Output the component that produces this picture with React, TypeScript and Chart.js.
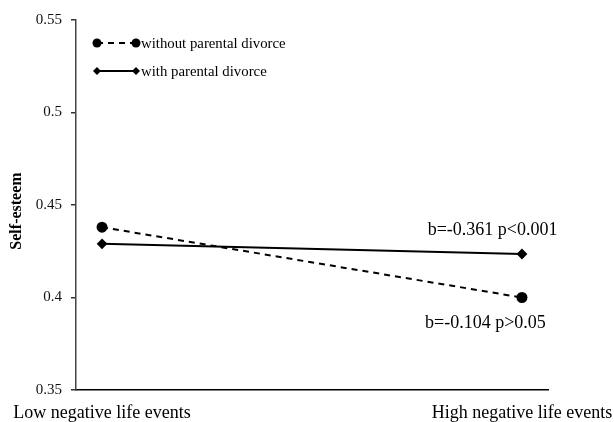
import React, { useEffect, useRef } from "react";
import { Chart, registerables } from "chart.js";

Chart.register(...registerables);

const categories = ["Low negative life events", "High negative life events"];
const categoryPositions = [0, 1];
const withoutDivorce = [0.438, 0.4];
const withDivorce = [0.429, 0.4235];
const seriesNames = ["without parental divorce", "with parental divorce"];
const yTicks = [0.35, 0.4, 0.45, 0.5, 0.55];
const yTickLabels = ["0.35", "0.4", "0.45", "0.5", "0.55"];
const yTitle = "Self-esteem";
const annotations = [
  { text: "b=-0.361 p<0.001", x: 0.93, y: 0.4362 },
  { text: "b=-0.104 p>0.05", x: 0.913, y: 0.3863 },
];

const SERIF = "'Times New Roman', 'Liberation Serif', serif";

const extrasPlugin = {
  id: "extras",
  afterDraw(chart: any) {
    const ctx = chart.ctx;
    const xs = chart.scales.x;
    const ys = chart.scales.y;
    ctx.save();
    ctx.fillStyle = "#000";
    ctx.font = `bold 16px ${SERIF}`;
    ctx.textAlign = "center";
    ctx.textBaseline = "middle";
    ctx.translate(17, (ys.top + ys.bottom) / 2 + 6);
    ctx.rotate(-Math.PI / 2);
    ctx.fillText(yTitle, 0, 0);
    ctx.restore();

    ctx.save();
    ctx.fillStyle = "#000";
    ctx.font = `18px ${SERIF}`;
    ctx.textAlign = "center";
    ctx.textBaseline = "middle";
    annotations.forEach((a) => {
      ctx.fillText(a.text, xs.getPixelForValue(a.x), ys.getPixelForValue(a.y));
    });
    ctx.restore();

    const rows = [43, 71];
    chart.data.datasets.forEach((ds: any, i: number) => {
      const y = rows[i];
      const x0 = 97;
      const x1 = 136;
      ctx.save();
      ctx.strokeStyle = ds.borderColor;
      ctx.lineWidth = ds.borderWidth;
      ctx.setLineDash(ds.borderDash || []);
      ctx.beginPath();
      ctx.moveTo(x0, y);
      ctx.lineTo(x1, y);
      ctx.stroke();
      ctx.setLineDash([]);
      ctx.fillStyle = ds.pointBackgroundColor;
      [x0, x1].forEach((x) => {
        ctx.beginPath();
        if (ds.pointStyle === "circle") {
          ctx.arc(x, y, ds.pointRadius, 0, Math.PI * 2);
        } else {
          const r = ds.pointRadius;
          ctx.moveTo(x, y - r);
          ctx.lineTo(x + r, y);
          ctx.lineTo(x, y + r);
          ctx.lineTo(x - r, y);
          ctx.closePath();
        }
        ctx.fill();
      });
      ctx.fillStyle = "#000";
      ctx.font = `14.8px ${SERIF}`;
      ctx.textAlign = "left";
      ctx.textBaseline = "middle";
      ctx.fillText(seriesNames[i], 141, y + 1);
      ctx.restore();
    });
  },
};

export default function App() {
  const ref = useRef<HTMLCanvasElement>(null);
  useEffect(() => {
    document.body.style.margin = "0";
    const chart = new Chart(ref.current!, {
      type: "line",
      data: {
        datasets: [
          {
            label: seriesNames[0],
            data: categoryPositions.map((x, i) => ({ x, y: withoutDivorce[i] })),
            borderColor: "#000",
            backgroundColor: "#000",
            pointBackgroundColor: "#000",
            pointBorderColor: "#000",
            borderWidth: 2,
            borderDash: [6, 5],
            pointStyle: "circle",
            pointRadius: 4.5,
          },
          {
            label: seriesNames[1],
            data: categoryPositions.map((x, i) => ({ x, y: withDivorce[i] })),
            borderColor: "#000",
            backgroundColor: "#000",
            pointBackgroundColor: "#000",
            pointBorderColor: "#000",
            borderWidth: 2,
            pointStyle: "rectRot",
            pointRadius: 4,
          },
        ] as any,
      },
      options: {
        animation: false,
        responsive: false,
        layout: { padding: { left: 0, top: 20, right: 66, bottom: 0 } },
        plugins: { legend: { display: false }, tooltip: { enabled: false } },
        scales: {
          x: {
            type: "linear",
            min: -0.062,
            max: 1.062,
            afterBuildTicks: (s: any) => {
              s.ticks = categoryPositions.map((v) => ({ value: v }));
            },
            afterFit: (s: any) => {
              s.height = 32;
              s.paddingLeft = 0;
              s.paddingRight = 0;
            },
            grid: { display: false, drawTicks: false },
            border: { display: true, color: "#000", width: 1.5 },
            ticks: {
              autoSkip: false,
              maxRotation: 0,
              padding: 12,
              color: "#000",
              font: { family: SERIF, size: 18 },
              callback: (v: any) => categories[categoryPositions.indexOf(Number(v))] ?? "",
            },
          },
          y: {
            type: "linear",
            min: 0.35,
            max: 0.55,
            afterBuildTicks: (s: any) => {
              s.ticks = yTicks.map((v) => ({ value: v }));
            },
            afterFit: (s: any) => {
              s.width = 76;
              s.paddingTop = 0;
              s.paddingBottom = 0;
            },
            grid: { drawOnChartArea: false, drawTicks: true, tickLength: 5, color: "#333", lineWidth: 1.5 },
            border: { display: true, color: "#444", width: 1.5 },
            ticks: {
              padding: 9,
              color: "#111",
              font: { family: SERIF, size: 15 },
              callback: (v: any) => {
                const idx = yTicks.findIndex((t) => Math.abs(t - Number(v)) < 1e-9);
                return idx >= 0 ? yTickLabels[idx] : "";
              },
            },
          },
        },
      },
      plugins: [extrasPlugin],
    } as any);
    return () => chart.destroy();
  }, []);
  return (
    <div style={{ position: "absolute", left: 0, top: 0, width: 614, height: 422 }}>
      <canvas ref={ref} width={614} height={422} />
    </div>
  );
}
